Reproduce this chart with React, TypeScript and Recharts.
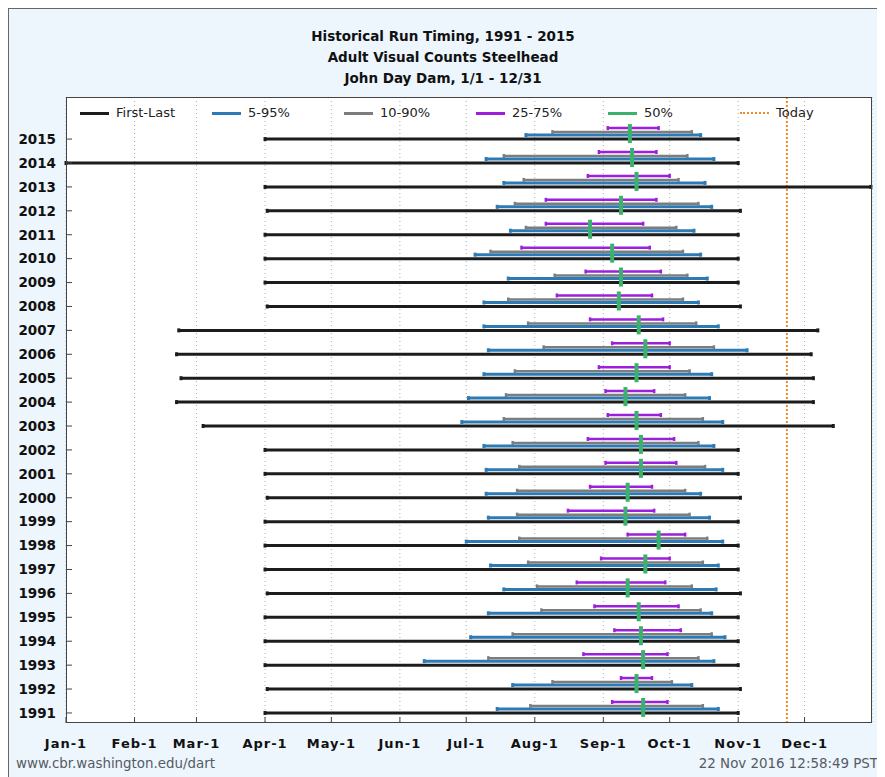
import { ScatterChart, Scatter, XAxis, YAxis, CartesianGrid, ReferenceLine, ErrorBar } from 'recharts';

// day of year, 0 = Jan-1
const years = [2015, 2014, 2013, 2012, 2011, 2010, 2009, 2008, 2007, 2006, 2005, 2004, 2003, 2002, 2001, 2000, 1999, 1998, 1997, 1996, 1995, 1994, 1993, 1992, 1991];
const firstDay = [90, 0, 90, 91, 90, 90, 90, 91, 51, 50, 52, 50, 62, 90, 90, 91, 90, 90, 90, 91, 90, 90, 90, 91, 90];
const lastDay = [304, 304, 364, 305, 304, 304, 304, 305, 340, 337, 338, 338, 347, 304, 304, 305, 304, 304, 304, 305, 304, 304, 304, 305, 304];
const pct5 = [208, 190, 198, 195, 201, 185, 200, 189, 189, 191, 189, 182, 179, 189, 190, 190, 191, 181, 192, 198, 191, 183, 162, 202, 195];
const pct95 = [287, 293, 289, 292, 284, 287, 290, 286, 295, 308, 292, 291, 297, 293, 297, 287, 291, 297, 295, 294, 292, 298, 293, 283, 295];
const pct10 = [220, 198, 207, 203, 208, 192, 221, 200, 209, 216, 203, 199, 198, 202, 205, 204, 204, 205, 209, 213, 215, 202, 191, 220, 210];
const pct90 = [283, 281, 277, 286, 276, 279, 281, 279, 285, 293, 282, 280, 288, 286, 289, 280, 282, 290, 288, 283, 287, 292, 286, 274, 288];
const pct25 = [245, 241, 236, 217, 217, 206, 235, 222, 237, 247, 241, 244, 245, 236, 244, 237, 227, 254, 242, 231, 239, 248, 234, 251, 247];
const pct75 = [268, 267, 273, 267, 261, 264, 269, 265, 270, 273, 273, 266, 269, 275, 276, 265, 266, 280, 273, 271, 277, 278, 272, 265, 272];
const pct50 = [255, 256, 258, 251, 237, 247, 251, 250, 259, 262, 258, 253, 258, 260, 260, 254, 253, 268, 262, 254, 259, 260, 261, 258, 261];

const monthTicks = [0, 31, 59, 90, 120, 151, 181, 212, 243, 273, 304, 334];
const monthLabels = ['Jan-1', 'Feb-1', 'Mar-1', 'Apr-1', 'May-1', 'Jun-1', 'Jul-1', 'Aug-1', 'Sep-1', 'Oct-1', 'Nov-1', 'Dec-1'];
const todayDay = 326;

const titleLines = ['Historical Run Timing, 1991 - 2015', 'Adult Visual Counts Steelhead', 'John Day Dam, 1/1 - 12/31'];
const legendLabels = ['First-Last', '5-95%', '10-90%', '25-75%', '50%', 'Today'];
const footerLeft = 'www.cbr.washington.edu/dart';
const footerRight = '22 Nov 2016 12:58:49 PST';

const C_BLACK = '#1c1c1c';
const C_BLUE = '#2c7bb6';
const C_GRAY = '#7d7d7d';
const C_PURPLE = '#9b1fdc';
const C_GREEN = '#3bb26b';
const C_TODAY = '#f0882a';
const legendColors = [C_BLACK, C_BLUE, C_GRAY, C_PURPLE, C_GREEN, C_TODAY];

const FONT = "'DejaVu Sans', Verdana, sans-serif";
const Y_MIN = 1990.58;
const Y_MAX = 2016.76;
const PLOT_H = 626;
const PX_PER_YEAR = PLOT_H / (Y_MAX - Y_MIN);

// each range sits a few pixels above the year's baseline
function rangeRows(lo: number[], hi: number[], liftPx: number) {
    return years.map((yr, i) => ({ x: lo[i], y: yr + liftPx / PX_PER_YEAR, span: [0, hi[i] - lo[i]] }));
}

const firstLastRows = rangeRows(firstDay, lastDay, 0);
const p595Rows = rangeRows(pct5, pct95, 4);
const p1090Rows = rangeRows(pct10, pct90, 7);
const p2575Rows = rangeRows(pct25, pct75, 11);
const medianRows = years.map((yr, i) => ({ x: pct50[i], y: yr }));

const NoDot = () => <g />;
const MedianTick = (props: any) => (
    <rect x={props.cx - 2} y={props.cy - 15} width={4} height={19} fill={C_GREEN} />
);

function LegendRow() {
    return (
        <div style={{ position: 'absolute', left: 71, top: 96, display: 'flex', fontFamily: FONT, fontSize: 13, color: '#222', lineHeight: '16px' }}>
            {legendLabels.map((label, i) => (
                <div key={label} style={{ width: 132, display: 'flex', alignItems: 'center' }}>
                    <div
                        style={{
                            width: 29,
                            height: 0,
                            borderTop: i === 5 ? `2px dotted ${legendColors[i]}` : `3px solid ${legendColors[i]}`,
                            marginRight: 7,
                        }}
                    />
                    <span>{label}</span>
                </div>
            ))}
        </div>
    );
}

export default function App() {
    return (
        <div
            style={{
                position: 'relative',
                width: 877,
                height: 769,
                boxSizing: 'border-box',
                background: '#edf5fd',
                borderLeft: '1px solid #666',
                borderTop: '1px solid #666',
                overflow: 'hidden',
            }}
        >
            <div style={{ position: 'absolute', left: 0, top: 17, width: 868, textAlign: 'center', fontFamily: FONT, fontWeight: 'bold', fontSize: 13.5, lineHeight: '21px', color: '#111' }}>
                {titleLines.map((t) => (
                    <div key={t}>{t}</div>
                ))}
            </div>

            <div style={{ position: 'absolute', left: 57, top: 88, width: 806, height: PLOT_H, background: '#fff' }} />

            <div style={{ position: 'absolute', left: 0, top: 0 }}>
                <ScatterChart width={876} height={768} margin={{ top: 88, right: 13, bottom: 14, left: 0 }}>
                    <CartesianGrid horizontal={false} stroke="#b0b0b0" strokeDasharray="1 3" />
                    <XAxis
                        type="number"
                        dataKey="x"
                        domain={[0, 364.5]}
                        allowDataOverflow
                        ticks={monthTicks}
                        interval={0}
                        tickFormatter={(v) => monthLabels[monthTicks.indexOf(Number(v))] ?? ''}
                        height={40}
                        axisLine={false}
                        tickSize={-6}
                        tickMargin={22}
                        tickLine={{ stroke: '#444' }}
                        tick={{ fill: '#111', fontSize: 13, fontWeight: 'bold', fontFamily: FONT, letterSpacing: 1 }}
                    />
                    <YAxis
                        type="number"
                        dataKey="y"
                        domain={[Y_MIN, Y_MAX]}
                        allowDataOverflow
                        ticks={years}
                        interval={0}
                        width={57}
                        axisLine={false}
                        tickSize={-6}
                        tickMargin={16}
                        tickLine={{ stroke: '#444' }}
                        tick={{ fill: '#111', fontSize: 13.5, fontWeight: 'bold', fontFamily: FONT }}
                    />
                    <ReferenceLine x={todayDay} stroke={C_TODAY} strokeWidth={2} strokeDasharray="2 2" />

                    <Scatter data={firstLastRows} shape={NoDot} isAnimationActive={false}>
                        <ErrorBar dataKey="span" direction="x" width={2} stroke={C_BLACK} strokeWidth={3} isAnimationActive={false} />
                    </Scatter>
                    <Scatter data={p595Rows} shape={NoDot} isAnimationActive={false}>
                        <ErrorBar dataKey="span" direction="x" width={2} stroke={C_BLUE} strokeWidth={3} isAnimationActive={false} />
                    </Scatter>
                    <Scatter data={p1090Rows} shape={NoDot} isAnimationActive={false}>
                        <ErrorBar dataKey="span" direction="x" width={2} stroke={C_GRAY} strokeWidth={2.5} isAnimationActive={false} />
                    </Scatter>
                    <Scatter data={p2575Rows} shape={NoDot} isAnimationActive={false}>
                        <ErrorBar dataKey="span" direction="x" width={2} stroke={C_PURPLE} strokeWidth={2.5} isAnimationActive={false} />
                    </Scatter>
                    <Scatter data={medianRows} shape={MedianTick} isAnimationActive={false} />
                </ScatterChart>
            </div>

            <div style={{ position: 'absolute', left: 57, top: 88, width: 806, height: PLOT_H, boxSizing: 'border-box', border: '1.5px solid #444', pointerEvents: 'none' }} />

            <LegendRow />

            <div style={{ position: 'absolute', left: 7, top: 747, fontFamily: FONT, fontSize: 13.4, color: '#555b63', lineHeight: '16px' }}>
                {footerLeft}
            </div>
            <div style={{ position: 'absolute', right: 7, top: 747, fontFamily: FONT, fontSize: 13.4, color: '#555b63', lineHeight: '16px', textAlign: 'right' }}>
                {footerRight}
            </div>
        </div>
    );
}
